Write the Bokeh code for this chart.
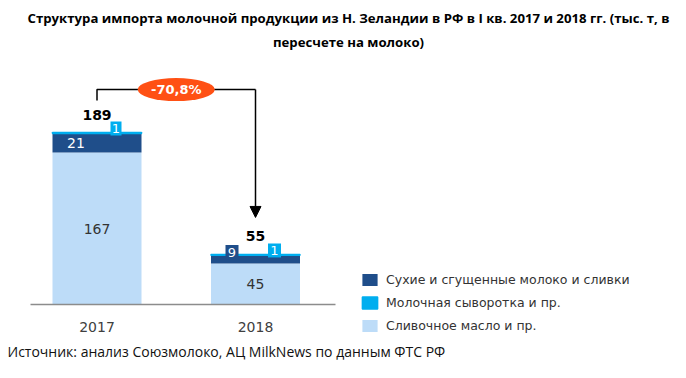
from bokeh.plotting import figure
from bokeh.models import Range1d, Legend, LegendItem, Arrow, NormalHead, ColumnDataSource
from bokeh.core.properties import value
from bokeh.embed import file_html
from bokeh.resources import INLINE

# ---- data ----
years = ["2017", "2018"]
butter = [167, 45]          # Сливочное масло и пр.
dry = [21, 9]               # Сухие и сгущенные молоко и сливки
whey = [1, 1]               # Молочная сыворотка и пр.
totals = [189, 55]
change_label = "-70,8%"
series_names = ["Сухие и сгущенные молоко и сливки", "Молочная сыворотка и пр.", "Сливочное масло и пр."]
title_lines = ["Структура импорта молочной продукции из Н. Зеландии в РФ в I кв. 2017 и 2018 гг. (тыс. т, в",
               "пересчете на молоко)"]
source_text = "Источник: анализ Союзмолоко, АЦ MilkNews по данным ФТС РФ"

# ---- layout / style ----
W, H = 670, 362
X_UNIT = 158.5      # px per category step
Y_SCALE = 0.91      # px per value unit
X0 = 96.5           # canvas x of first bar centre
BASE_Y = 304        # canvas y of baseline
PXX = 1 / X_UNIT
PXY = 1 / Y_SCALE

DARK = "#1F4E8A"
CYAN = "#00AEEF"
LIGHT = "#BDDCF8"
ORANGE = "#FF5014"
TXT = "#333333"
FONT = "DejaVu Sans"

def xd(cx):
    return (cx - X0) / X_UNIT

def yd(cy):
    return (BASE_Y - cy) / Y_SCALE

p = figure(width=W, height=H, x_range=Range1d(xd(0), xd(W)), y_range=Range1d(yd(H), yd(0)),
           output_backend="svg", toolbar_location=None, min_border=0,
           x_axis_type=None, y_axis_type=None)
p.grid.visible = False
p.outline_line_color = None
p.background_fill_color = "white"

xs = list(range(len(years)))
src = ColumnDataSource(dict(x=xs, butter=butter, dry=dry, whey=whey))
rs = p.vbar_stack(["butter", "dry", "whey"], x="x", width=89 * PXX, source=src,
                  fill_color=[LIGHT, DARK, CYAN], line_color=[None, None, CYAN],
                  line_width=[0, 0, 1.5])
r_butter, r_dry, r_whey = rs

# baseline
p.segment(x0=[xd(30)], y0=[0], x1=[xd(335)], y1=[0], line_color="#8C8C8C", line_width=1.5)

# year labels
p.text(x=xs, y=[0] * len(xs), text=years, y_offset=22, text_align="center", text_baseline="middle",
       text_font=value(FONT), text_font_size="14px", text_color="#404040")

# total labels
p.text(x=xs, y=totals, text=[str(t) for t in totals], y_offset=-18, text_align="center",
       text_baseline="middle", text_font=value(FONT), text_font_size="14px",
       text_font_style="bold", text_color="black")

# butter labels (middle of segment)
p.text(x=xs, y=[b / 2 for b in butter], text=[str(b) for b in butter], text_align="center",
       text_baseline="middle", text_font=value(FONT), text_font_size="14px", text_color=TXT)

# dry labels: inside segment if thick enough, otherwise boxed
for i, (b, d, w, t) in enumerate(zip(butter, dry, whey, totals)):
    if d * Y_SCALE >= 14:
        p.text(x=[i - 21 * PXX], y=[b + d / 2], text=[str(d)], text_align="center",
               text_baseline="middle", text_font=value(FONT), text_font_size="14px", text_color="white")
    else:
        bx, by = i - 23.5 * PXX, t + 2 * PXY
        p.rect(x=[bx], y=[by], width=13, height=15, width_units="screen", height_units="screen",
               fill_color=DARK, line_color=None)
        p.text(x=[bx], y=[by], text=[str(d)], text_align="center", text_baseline="middle",
               text_font=value(FONT), text_font_size="13px", text_color="white")
    # whey label box
    wx, wy = i + 19 * PXX, t + 4 * PXY
    p.rect(x=[wx], y=[wy], width=11 if i == 0 else 13, height=14, width_units="screen",
           height_units="screen", fill_color=CYAN, line_color=None)
    p.text(x=[wx], y=[wy], text=[str(w)], text_align="center", text_baseline="middle",
           text_font=value(FONT), text_font_size="13px", text_color="white")

# change bracket + arrow
yb = totals[0] + 43 * PXY
y_start = totals[0] + 32 * PXY
y_tip = totals[1] + 37 * PXY
p.line(x=[0, 0, 1], y=[y_start, yb, yb], line_color="black", line_width=1.5)
p.add_layout(Arrow(end=NormalHead(size=11, fill_color="black", line_color="black"),
                   x_start=1, y_start=yb, x_end=1, y_end=y_tip, line_color="black", line_width=1.5))
p.ellipse(x=[0.5], y=[yb], width=77, height=23, width_units="screen", height_units="screen",
          fill_color=ORANGE, line_color=None)
p.text(x=[0.5], y=[yb], text=[change_label], text_align="center", text_baseline="middle",
       text_font=value(FONT), text_font_size="13px", text_font_style="bold", text_color="white")

# title
for k, line in enumerate(title_lines):
    p.text(x=[xd(348)], y=[yd(17 + 24 * k)], text=[line], text_align="center", text_baseline="middle",
           text_font=value("Open Sans"), text_font_size="13.2px", text_font_style="bold", text_color="black")

# source
p.text(x=[xd(7)], y=[yd(351)], text=[source_text], text_align="left", text_baseline="middle",
       text_font=value("Open Sans"), text_font_size="14px", text_color="#111111")

legend = Legend(items=[LegendItem(label=series_names[0], renderers=[r_dry]),
                       LegendItem(label=series_names[1], renderers=[r_whey]),
                       LegendItem(label=series_names[2], renderers=[r_butter])],
                location=(360, 29), orientation="vertical", glyph_width=19, glyph_height=15,
                label_height=15, label_standoff=7, spacing=8, padding=0, margin=0,
                border_line_color=None, background_fill_alpha=0,
                label_text_font=FONT, label_text_font_size="12.5px", label_text_color=TXT)
p.add_layout(legend)

open("out.html", "w").write(file_html(p, INLINE))
